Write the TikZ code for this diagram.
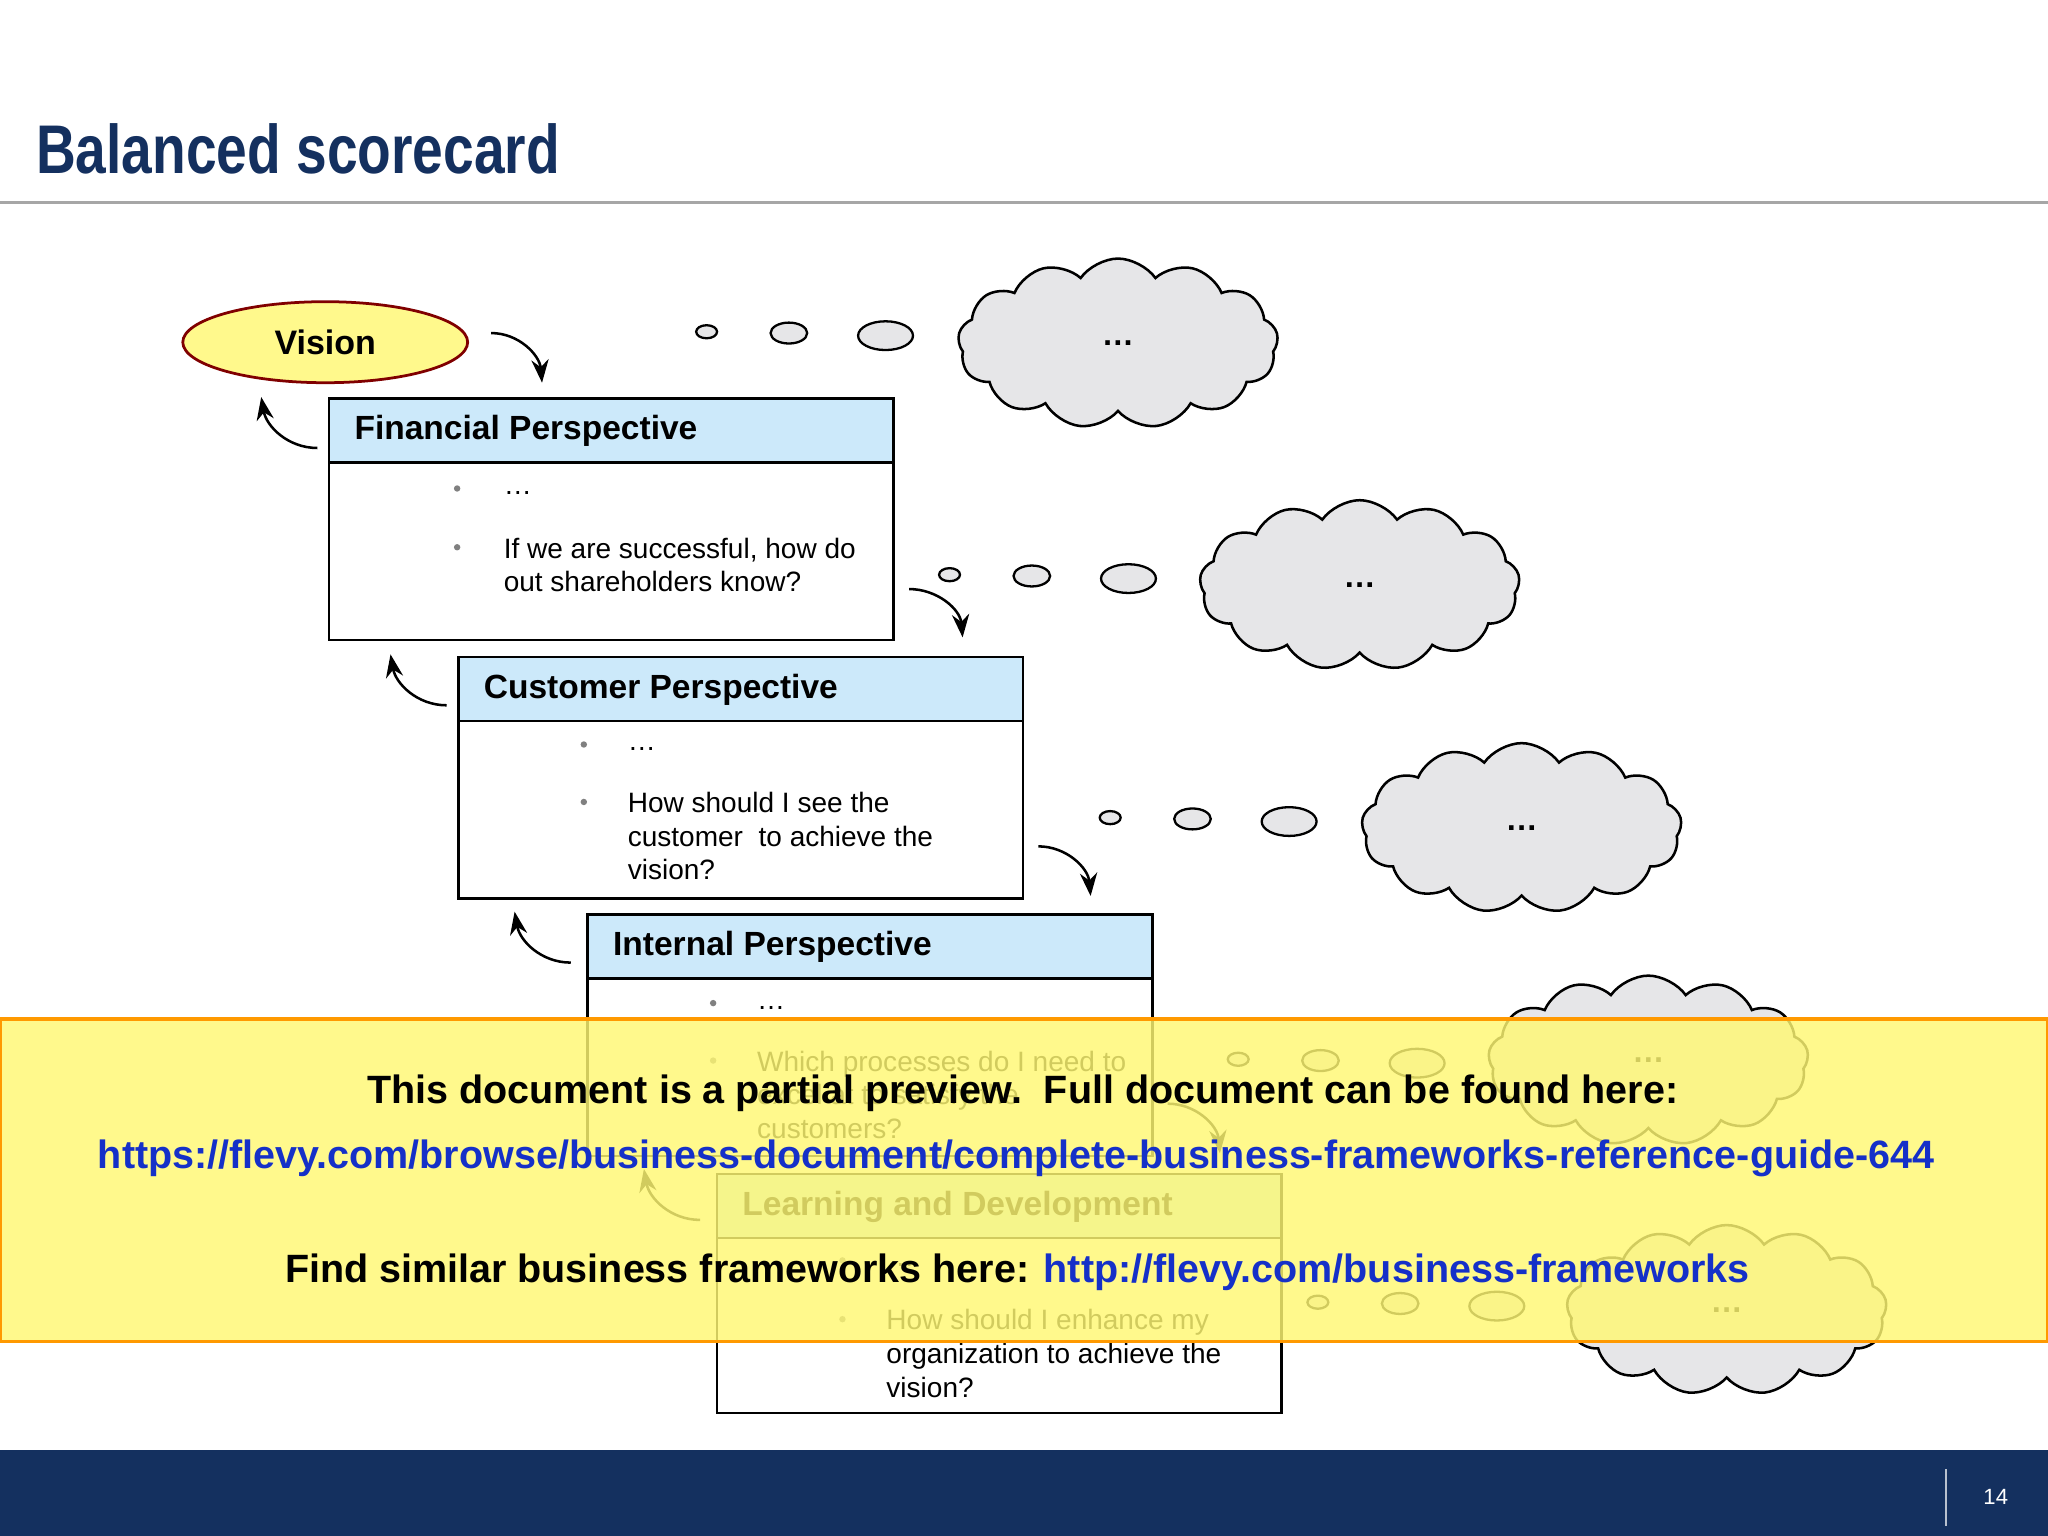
\documentclass[tikz,border=0pt]{standalone}
\usepackage{fontspec}
\setmainfont{Liberation Sans}
\newfontfamily\titlefont[FakeStretch=0.8]{Liberation Sans}
\usetikzlibrary{shapes.symbols,shapes.geometric,arrows.meta}
\definecolor{navy}{HTML}{14305F}
\definecolor{hdr}{HTML}{CCE9FA}
\definecolor{cloudg}{HTML}{E6E6E8}
\definecolor{urlb}{HTML}{1530C8}
\tikzset{
 hbox/.style={draw,fill=hdr,line width=0.55pt,minimum height=0.49cm,anchor=north west,inner sep=0},
 bbox/.style={draw,line width=0.55pt,anchor=north west,inner sep=0},
 htxt/.style={anchor=west,font=\bfseries\fontsize{7.3pt}{9pt}\selectfont},
 btxt/.style={anchor=north west,font=\fontsize{6.1pt}{7.3pt}\selectfont,align=left,inner sep=0},
 bul/.style={circle,fill=gray,inner sep=0,minimum size=1.4pt},
 carrow/.style={-{Stealth[length=5pt]},line width=0.55pt},
 bub/.style={ellipse,draw,fill=cloudg,line width=0.5pt,inner sep=0},
 cld/.style={cloud,cloud puffs=13,cloud puff arc=110,draw,fill=cloudg,line width=0.55pt,aspect=1.9,minimum width=2.45cm,minimum height=1.3cm,font=\bfseries\fontsize{7pt}{8pt}\selectfont},
}
\begin{document}
\begin{tikzpicture}[x=0.01cm,y=-0.01cm]
\useasboundingbox (0,0) rectangle (1568,1176);
\fill[white] (0,0) rectangle (1568,1176);
\node[anchor=base west,text=navy,font=\titlefont\bfseries\fontsize{15pt}{17pt}\selectfont,inner sep=0] (title) at (27,133) {Balanced scorecard};
\draw[gray!70,line width=0.6pt] (0,155) -- (1568,155);
% Vision
\node[ellipse,draw=red!50!black,fill=yellow!45,line width=0.6pt,minimum width=2.18cm,minimum height=0.62cm,font=\bfseries\fontsize{7.4pt}{9pt}\selectfont] (vis) at (249,262) {Vision};
% boxes
\foreach \n/\x/\y/\h/\t in {f/251/304/185/Financial Perspective, c/350/502/185/Customer Perspective, i/449/699/185/Internal Perspective, l/548/898/183/Learning and Development}{
 \node[bbox,minimum width=4.32cm,minimum height=\h*0.01cm] (\n b) at (\x,\y) {};
 \node[hbox,minimum width=4.32cm] (\n h) at (\x,\y) {};
 \node[htxt] (\n t) at (\x+8,\y+26) {\t};
}
% body texts
\node[bul] (fb1) at (350,374) {}; \node[btxt] (ft1) at (385,375) {\dots};
\node[bul] (fb2) at (350,419) {}; \node[btxt] (ft2) at (385,411) {If we are successful, how do\\out shareholders know?};
\node[bul] (cb1) at (447,570) {}; \node[btxt] (ct1) at (480,571) {\dots};
\node[bul] (cb2) at (447,614) {}; \node[btxt] (ct2) at (480,606) {How should I see the\\customer\ \ to achieve the\\vision?};
\node[bul] (ib1) at (546,768) {}; \node[btxt] (it1) at (579,769) {\dots};
\node[bul] (ib2) at (546,812) {}; \node[btxt] (it2) at (579,804) {Which processes do I need to\\excel at to satisfy the\\customers?};
\node[bul] (lb1) at (645,965) {}; \node[btxt] (lt1) at (678,966) {\dots};
\node[bul] (lb2) at (645,1010) {}; \node[btxt] (lt2) at (678,1002) {How should I enhance my\\organization to achieve the\\vision?};
% arrows
\coordinate (a1s) at (376,255); \coordinate (a1e) at (415,293);
\draw[carrow] (a1s) to[out=0,in=95] (a1e);
\coordinate (r1s) at (696,451); \coordinate (r1e) at (737,488);
\coordinate (r2s) at (795,648); \coordinate (r2e) at (835,686);
\coordinate (r3s) at (894,845); \coordinate (r3e) at (934,883);
\foreach \n in {1,2,3} \draw[carrow] (r\n s) to[out=0,in=95] (r\n e);
\coordinate (b1s) at (243,343); \coordinate (b1e) at (200,304);
\coordinate (b2s) at (342,540); \coordinate (b2e) at (299,501);
\coordinate (b3s) at (437,737); \coordinate (b3e) at (394,698);
\coordinate (b4s) at (536,934); \coordinate (b4e) at (493,895);
\foreach \n in {1,2,3,4} \draw[carrow] (b\n s) to[out=180,in=-80] (b\n e);
% thought bubbles
\foreach \k/\x/\y/\cx/\cy in {1/541/254/856/263, 2/727/440/1041/448, 3/850/626/1165/634, 4/948/811/1262/812, 5/1009/997/1322/1003}{
 \node[bub,minimum width=0.16cm,minimum height=0.1cm] (s\k) at (\x,\y) {};
 \node[bub,minimum width=0.28cm,minimum height=0.16cm] (m\k) at (\x+63,\y+1) {};
 \node[bub,minimum width=0.42cm,minimum height=0.22cm] (g\k) at (\x+137,\y+3) {};
 \node[cld] (c\k) at (\cx,\cy) {\dots};
}
% overlay
\fill[yellow!55,opacity=0.82] (0,780) rectangle (1568,1027);
\draw[orange!80!yellow,line width=0.8pt] (0,780) rectangle (1568,1027);
\node[font=\bfseries\fontsize{8.6pt}{10pt}\selectfont] (o1) at (783,837) {This document is a partial preview.\ \ Full document can be found here:};
\node[font=\bfseries\fontsize{8.6pt}{10pt}\selectfont,text=urlb] (o2) at (778,887) {https://flevy.com/browse/business-document/complete-business-frameworks-reference-guide-644};
\node[font=\bfseries\fontsize{8.6pt}{10pt}\selectfont] (o3) at (779,974) {Find similar business frameworks here: \textcolor{urlb}{http://flevy.com/business-frameworks}};
% footer
\fill[navy] (0,1110) rectangle (1568,1176);
\draw[white!70!navy,line width=0.5pt] (1490,1125) -- (1490,1168);
\node[text=white,font=\fontsize{4.8pt}{6pt}\selectfont] (pg) at (1528,1146) {14};
\end{tikzpicture}
\end{document}
